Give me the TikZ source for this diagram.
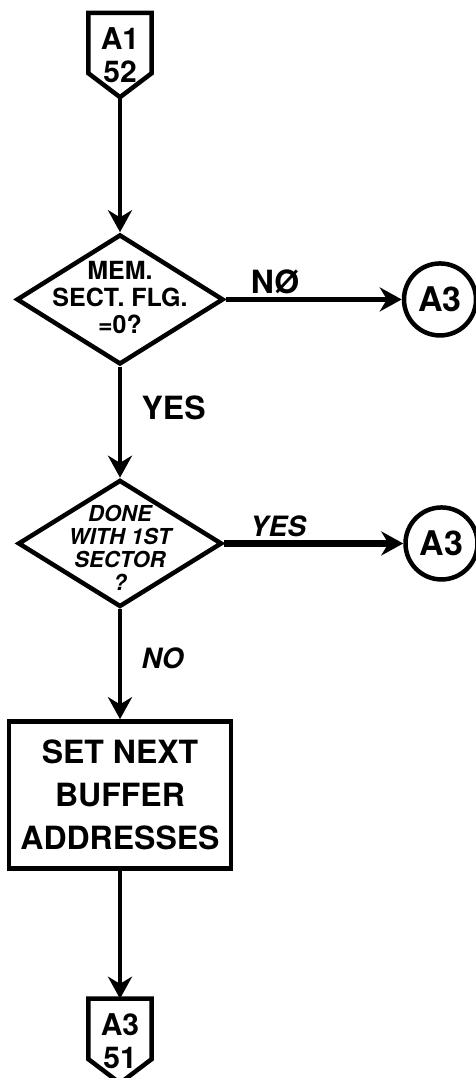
\documentclass[tikz,border=0pt]{standalone}
\usepackage{fontspec}
\setmainfont{TeX Gyre Heros}
\usetikzlibrary{arrows.meta,positioning,shapes.geometric}
\tikzset{
offpage/.style={minimum width=63pt,minimum height=84pt,inner sep=0pt,align=center,font=\bfseries\fontsize{30}{33}\selectfont,
  append after command={\pgfextra{\draw[line width=4.5pt,line join=miter]
    ([yshift=24pt]\tikzlastnode.south west)--(\tikzlastnode.north west)--(\tikzlastnode.north east)
    --([yshift=24pt]\tikzlastnode.south east)--(\tikzlastnode.south)--cycle;}}},
decision/.style={draw,line width=4.5pt,diamond,inner sep=0pt},
process/.style={draw,line width=4.5pt,rectangle,minimum width=222pt,minimum height=147pt,align=center,font=\bfseries\fontsize{32}{43}\selectfont},
connector/.style={draw,line width=4.5pt,circle,minimum size=72pt,inner sep=0pt,font=\bfseries\fontsize{34}{36}\selectfont},
decisiontext/.style={align=center,font=\bfseries\fontsize{25}{27}\selectfont},
arrow/.style={-{Stealth[length=22pt,width=24pt]},line width=4.5pt},
flowlabel/.style={font=\bfseries\fontsize{32}{34}\selectfont}
}
\begin{document}
\begin{tikzpicture}[x=1pt,y=1pt]
\useasboundingbox (0,0) rectangle (475,-1078);
\node[offpage] (a1) at (120,-55) {A1\\52};
\node[decision,minimum width=207pt,minimum height=130pt,below=135pt of a1,label={[decisiontext,yshift=2pt]center:{MEM.\\SECT. FLG.\\=0?}}] (memflg) {};
\node[connector,right=176pt of memflg] (a3no) {A3};
\node[decision,minimum width=204pt,minimum height=127pt,below=111pt of memflg,label={[decisiontext,font=\bfseries\itshape\fontsize{22}{23}\selectfont,yshift=-4pt]center:{DONE\\WITH 1ST\\SECTOR\\?}}] (donesect) {};
\node[connector,right=179pt of donesect] (a3yes) {A3};
\node[process,below=110pt of donesect] (setbuf) {SET NEXT\\BUFFER\\ADDRESSES};
\node[offpage] (a3) [below=128pt of setbuf] {A3\\51};
\draw[arrow] (a1)--(memflg);
\draw[arrow] (memflg)--node[flowlabel,above,pos=.28]{NØ}(a3no);
\draw[arrow] (memflg)--node[flowlabel,right=16pt,pos=.37]{YES}(donesect);
\draw[arrow,line width=6.5pt] (donesect)--node[flowlabel,above,pos=.3,font=\bfseries\itshape\fontsize{28}{30}\selectfont]{YES}(a3yes);
\draw[arrow] (donesect)--node[flowlabel,right=16pt,pos=.45,font=\bfseries\itshape\fontsize{28}{30}\selectfont]{NO}(setbuf);
\draw[arrow] (setbuf)--(a3);
\end{tikzpicture}
\end{document}
